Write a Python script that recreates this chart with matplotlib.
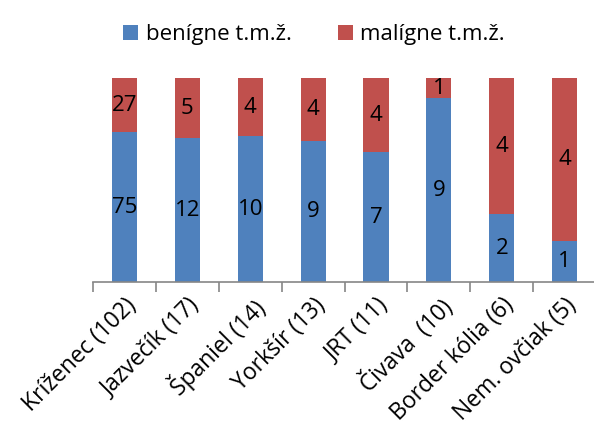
import numpy as np
import matplotlib.pyplot as plt

plt.rcParams['font.family'] = ['Open Sans', 'DejaVu Sans']

# data
breeds = ['Kríženec (102)', 'Jazvečík (17)', 'Španiel (14)', 'Yorkšír (13)',
          'JRT (11)', 'Čivava  (10)', 'Border kólia (6)', 'Nem. ovčiak (5)']
benign = [75, 12, 10, 9, 7, 9, 2, 1]
malign = [27, 5, 4, 4, 4, 1, 4, 4]

blue = '#4F81BD'
red = '#C0504D'

benign = np.array(benign, dtype=float)
malign = np.array(malign, dtype=float)
total = benign + malign
b_pct = benign / total * 100
m_pct = malign / total * 100

fig = plt.figure(figsize=(5.94, 4.32), dpi=100)
ax = fig.add_axes([0.1566, 0.347, 0.847, 0.4724])

x = np.arange(len(breeds))
ax.bar(x, b_pct, width=0.4, color=blue, label='benígne t.m.ž.')
ax.bar(x, m_pct, width=0.4, bottom=b_pct, color=red, label='malígne t.m.ž.')

for i in range(len(breeds)):
    ax.text(x[i], b_pct[i] / 2, f'{int(benign[i])}', ha='center', va='center',
            fontsize=16, color='black')
    ax.text(x[i], b_pct[i] + m_pct[i] / 2, f'{int(malign[i])}', ha='center',
            va='center', fontsize=16, color='black')

ax.set_xlim(-0.5, len(breeds) - 0.5)
ax.set_ylim(0, 100)
ax.set_yticks([])
for s in ['top', 'right', 'left']:
    ax.spines[s].set_visible(False)
ax.spines['bottom'].set_color('#868686')
ax.spines['bottom'].set_linewidth(1.2)

ax.set_xticks(x)
ax.set_xticklabels(breeds, rotation=45, ha='right', rotation_mode='anchor',
                   fontsize=16.5)
ax.tick_params(axis='x', which='major', length=0, pad=8)
ax.set_xticks(np.arange(-0.5, len(breeds)), minor=True)
ax.tick_params(axis='x', which='minor', length=7, width=1.2, color='#868686',
               direction='out')

fig.legend(loc='upper center', bbox_to_anchor=(0.529, 0.99), ncol=2,
           frameon=False, fontsize=16, handlelength=0.65, handleheight=0.65,
           handletextpad=0.35, columnspacing=2.1)

fig.savefig('out.png', dpi=100)
